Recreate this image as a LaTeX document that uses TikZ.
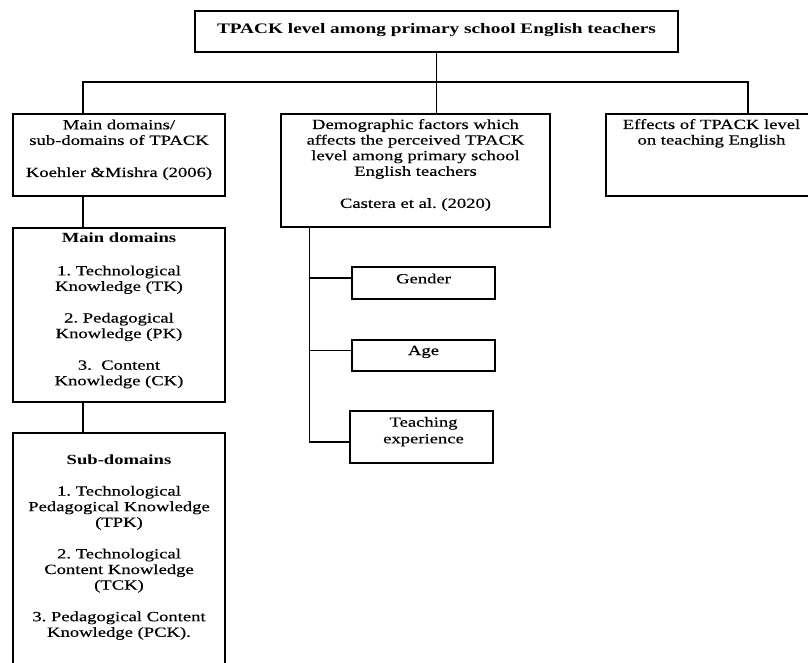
\documentclass[tikz,border=0pt]{standalone}
\usepackage{fontspec}
\setmainfont{Liberation Serif}[FakeStretch=1.33, UprightFeatures={FakeBold=0.4}]
\usetikzlibrary{calc}
\tikzset{
    box/.style={draw, rectangle, inner sep=0pt},
    txt/.style={anchor=base, align=center, inner sep=0pt,
        font=\fontsize{14}{15.6}\selectfont\frenchspacing},
}

\begin{document}
\begin{tikzpicture}[x=1pt, y=-1pt, line width=1.3pt]
\useasboundingbox (0,0) rectangle (808,663);
\clip (0,0) rectangle (808,663);
% boxes
\node[box, minimum width=483pt, minimum height=41pt] (title) at (436.5,31.5) {};
\node[box, minimum width=212pt, minimum height=82pt] (mainsub) at (119,155) {};
\node[box, minimum width=269pt, minimum height=113pt] (demo) at (415.5,170.5) {};
\node[box, minimum width=211pt, minimum height=82pt] (effects) at (711.5,155) {};
\node[box, minimum width=212pt, minimum height=174pt] (maindom) at (119,315) {};
\node[box, minimum width=212pt, minimum height=257pt] (subdom) at (119,561.5) {};
\node[box, minimum width=143pt, minimum height=32pt] (gender) at (423.5,283) {};
\node[box, minimum width=143pt, minimum height=31pt] (age) at (423.5,355.5) {};
\node[box, minimum width=143pt, minimum height=52pt] (teach) at (421.5,437) {};
% texts
\node[txt, text width=478pt, font=\fontsize{14.5}{16}\selectfont\bfseries]
    (titletxt) at (436.5,33.3) {TPACK level among primary school English teachers};
\node[txt, text width=208pt] (mainsubtxt) at (119,129.3)
    {Main domains/\\sub-domains of TPACK\\[16.5pt]Koehler \&Mishra (2006)};
\node[txt, text width=265pt] (demotxt) at (415.5,129)
    {Demographic factors which\\affects the perceived TPACK\\level among primary school\\English teachers\\[16.5pt]Castera et al. (2020)};
\node[txt, text width=207pt] (effectstxt) at (711.5,129)
    {Effects of TPACK level\\on teaching English};
\node[txt, text width=208pt] (maindomtxt) at (119,242.7)
    {\textbf{Main domains}\\[17pt]1. Technological\\Knowledge (TK)\\[16pt]2. Pedagogical\\Knowledge (PK)\\[16pt]3.~ Content\\Knowledge (CK)};
\node[txt, text width=208pt] (subdomtxt) at (119,464)
    {\textbf{Sub-domains}\\[16pt]1. Technological\\Pedagogical Knowledge\\(TPK)\\[16pt]2. Technological\\Content Knowledge\\(TCK)\\[16pt]3. Pedagogical Content\\Knowledge (PCK).};
\node[txt, text width=139pt] (gendertxt) at (423.5,283.3) {Gender};
\node[txt, text width=139pt] (agetxt) at (423.5,355) {Age};
\node[txt, text width=139pt] (teachtxt) at (423.5,426.7) {Teaching\\[1pt]experience};
% connectors
\coordinate (busL) at (83,82);
\coordinate (busR) at (748,82);
\coordinate (trunk) at (309.5,0);
\draw (title.south) -- (title.south |- demo.north);
\draw (busL |- mainsub.north) -- (busL) -- (busR) -- (busR |- effects.north);
\draw (busL |- mainsub.south) -- (busL |- maindom.north);
\draw (busL |- maindom.south) -- (busL |- subdom.north);
\foreach \f/\dy in {gender/-5, age/-5, teach/5}
    \coordinate (\f-in) at ($(\f.west)+(0,\dy)$);
\draw (trunk |- demo.south) |- (teach-in);
\foreach \f in {gender, age}
    \draw (trunk |- \f-in) -- (\f-in);
\end{tikzpicture}
\end{document}
